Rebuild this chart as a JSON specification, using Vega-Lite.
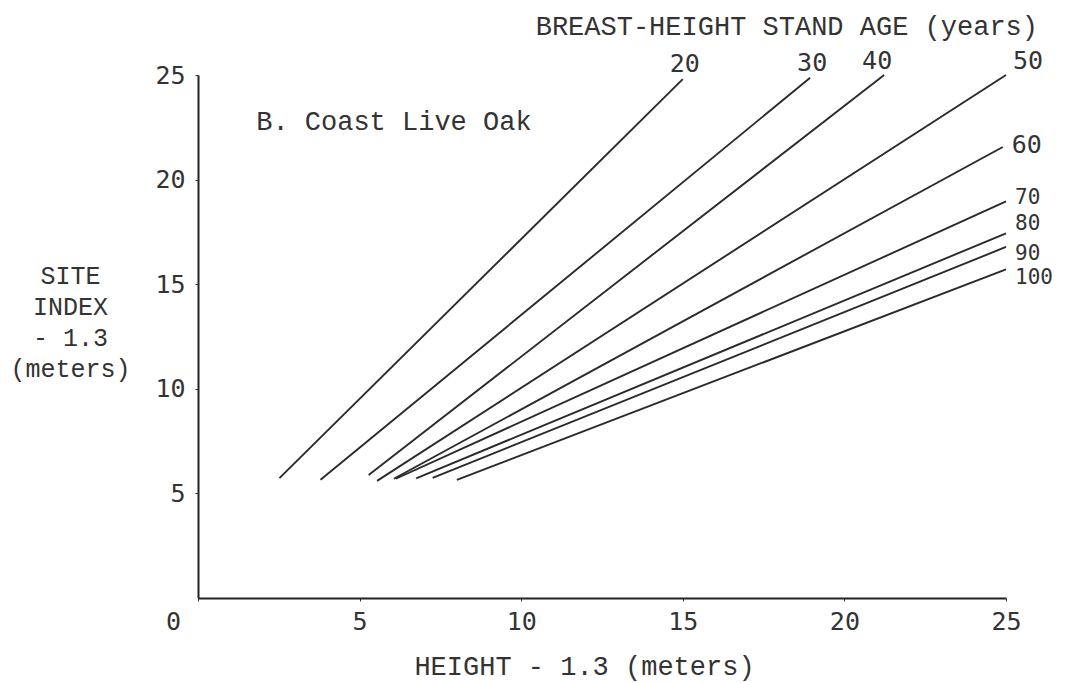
{
  "$schema": "https://vega.github.io/schema/vega-lite/v6.json",
  "width": 808,
  "height": 523,
  "autosize": {"type": "none"},
  "padding": {"left": 198, "top": 75, "right": 59, "bottom": 85},
  "background": "white",
  "config": {"view": {"stroke": null}, "axis": {"grid": false}},
  "title": {
    "text": "BREAST-HEIGHT STAND AGE (years)",
    "anchor": "end",
    "frame": "group",
    "orient": "top",
    "font": "Liberation Mono",
    "fontSize": 27,
    "fontWeight": "normal",
    "color": "#333333",
    "dx": 32,
    "offset": 8
  },
  "data": {
    "values": [
      {"age": 20, "pt": "start", "h": 2.52, "si": 5.73},
      {"age": 20, "pt": "end", "h": 15.0, "si": 24.8},
      {"age": 30, "pt": "start", "h": 3.79, "si": 5.65},
      {"age": 30, "pt": "end", "h": 18.94, "si": 24.87},
      {"age": 40, "pt": "start", "h": 5.28, "si": 5.88},
      {"age": 40, "pt": "end", "h": 21.23, "si": 25.0},
      {"age": 50, "pt": "start", "h": 5.54, "si": 5.6},
      {"age": 50, "pt": "end", "h": 25.0, "si": 25.0},
      {"age": 60, "pt": "start", "h": 6.06, "si": 5.7},
      {"age": 60, "pt": "end", "h": 24.9, "si": 21.56},
      {"age": 70, "pt": "start", "h": 6.12, "si": 5.7},
      {"age": 70, "pt": "end", "h": 25.0, "si": 18.96},
      {"age": 80, "pt": "start", "h": 6.75, "si": 5.72},
      {"age": 80, "pt": "end", "h": 25.0, "si": 17.43},
      {"age": 90, "pt": "start", "h": 7.26, "si": 5.74},
      {"age": 90, "pt": "end", "h": 25.0, "si": 16.78},
      {"age": 100, "pt": "start", "h": 8.01, "si": 5.65},
      {"age": 100, "pt": "end", "h": 25.0, "si": 15.71}
    ]
  },
  "encoding": {
    "x": {
      "field": "h",
      "type": "quantitative",
      "scale": {"domain": [0, 25], "nice": false, "zero": false},
      "axis": {
        "title": "HEIGHT - 1.3 (meters)",
        "values": [0, 5, 10, 15, 20, 25],
        "labelFont": "DejaVu Sans Mono",
        "labelFontSize": 25,
        "labelColor": "#333333",
        "labelPadding": 8,
        "labelFlush": false,
        "labelOffset": {"condition": {"test": "datum.value === 0", "value": -25}, "value": 0},
        "tickSize": 3,
        "tickColor": "#333333",
        "domainColor": "#222222",
        "domainWidth": 2,
        "titleFont": "Liberation Mono",
        "titleFontSize": 27,
        "titleFontWeight": "normal",
        "titleColor": "#333333",
        "titlePadding": 19,
        "titleX": 386
      }
    },
    "y": {
      "field": "si",
      "type": "quantitative",
      "scale": {"domain": [0, 25], "nice": false, "zero": false},
      "axis": {
        "title": ["SITE", "INDEX", "- 1.3", "(meters)"],
        "values": [5, 10, 15, 20, 25],
        "labelFont": "DejaVu Sans Mono",
        "labelFontSize": 25,
        "labelColor": "#333333",
        "labelPadding": 10,
        "tickSize": 3,
        "tickColor": "#333333",
        "domainColor": "#222222",
        "domainWidth": 2,
        "titleFont": "Liberation Mono",
        "titleFontSize": 25,
        "titleFontWeight": "normal",
        "titleColor": "#333333",
        "titleAngle": 0,
        "titleAlign": "center",
        "titleBaseline": "top",
        "titleLineHeight": 31,
        "titleX": -128,
        "titleY": 188
      }
    }
  },
  "layer": [
    {
      "mark": {"type": "line", "stroke": "#2a2a2a", "strokeWidth": 1.9},
      "encoding": {
        "detail": {"field": "age", "type": "nominal"},
        "order": {"field": "h", "type": "quantitative"}
      }
    },
    {
      "transform": [{"filter": "datum.pt === 'end' && (datum.age === 20 || datum.age === 30)"}],
      "mark": {"type": "text", "font": "DejaVu Sans Mono", "fontSize": 25, "color": "#333333", "align": "center", "baseline": "middle", "dx": 2, "dy": -15},
      "encoding": {"text": {"field": "age", "type": "nominal"}}
    },
    {
      "transform": [{"filter": "datum.pt === 'end' && datum.age === 40"}],
      "mark": {"type": "text", "font": "DejaVu Sans Mono", "fontSize": 25, "color": "#333333", "align": "center", "baseline": "middle", "dx": -7, "dy": -14},
      "encoding": {"text": {"field": "age", "type": "nominal"}}
    },
    {
      "transform": [{"filter": "datum.pt === 'end' && datum.age === 50"}],
      "mark": {"type": "text", "font": "DejaVu Sans Mono", "fontSize": 25, "color": "#333333", "align": "center", "baseline": "middle", "dx": 22, "dy": -14},
      "encoding": {"text": {"field": "age", "type": "nominal"}}
    },
    {
      "transform": [{"filter": "datum.pt === 'end' && datum.age === 60"}],
      "mark": {"type": "text", "font": "DejaVu Sans Mono", "fontSize": 25, "color": "#333333", "align": "left", "baseline": "middle", "dx": 9, "dy": -2},
      "encoding": {"text": {"field": "age", "type": "nominal"}}
    },
    {
      "transform": [{"filter": "datum.pt === 'end' && datum.age === 70"}],
      "mark": {"type": "text", "font": "DejaVu Sans Mono", "fontSize": 21, "color": "#333333", "align": "left", "baseline": "middle", "dx": 9, "dy": -3},
      "encoding": {"text": {"field": "age", "type": "nominal"}}
    },
    {
      "transform": [{"filter": "datum.pt === 'end' && datum.age === 80"}],
      "mark": {"type": "text", "font": "DejaVu Sans Mono", "fontSize": 21, "color": "#333333", "align": "left", "baseline": "middle", "dx": 9, "dy": -9},
      "encoding": {"text": {"field": "age", "type": "nominal"}}
    },
    {
      "transform": [{"filter": "datum.pt === 'end' && datum.age === 90"}],
      "mark": {"type": "text", "font": "DejaVu Sans Mono", "fontSize": 21, "color": "#333333", "align": "left", "baseline": "middle", "dx": 9, "dy": 7},
      "encoding": {"text": {"field": "age", "type": "nominal"}}
    },
    {
      "transform": [{"filter": "datum.pt === 'end' && datum.age === 100"}],
      "mark": {"type": "text", "font": "DejaVu Sans Mono", "fontSize": 21, "color": "#333333", "align": "left", "baseline": "middle", "dx": 9, "dy": 9},
      "encoding": {"text": {"field": "age", "type": "nominal"}}
    },
    {
      "transform": [{"filter": "datum.pt === 'start' && datum.age === 20"}],
      "mark": {"type": "text", "text": "B. Coast Live Oak", "font": "Liberation Mono", "fontSize": 27, "color": "#333333", "align": "left", "baseline": "middle"},
      "encoding": {
        "x": {"datum": 1.8, "type": "quantitative"},
        "y": {"datum": 22.75, "type": "quantitative"}
      }
    }
  ]
}
